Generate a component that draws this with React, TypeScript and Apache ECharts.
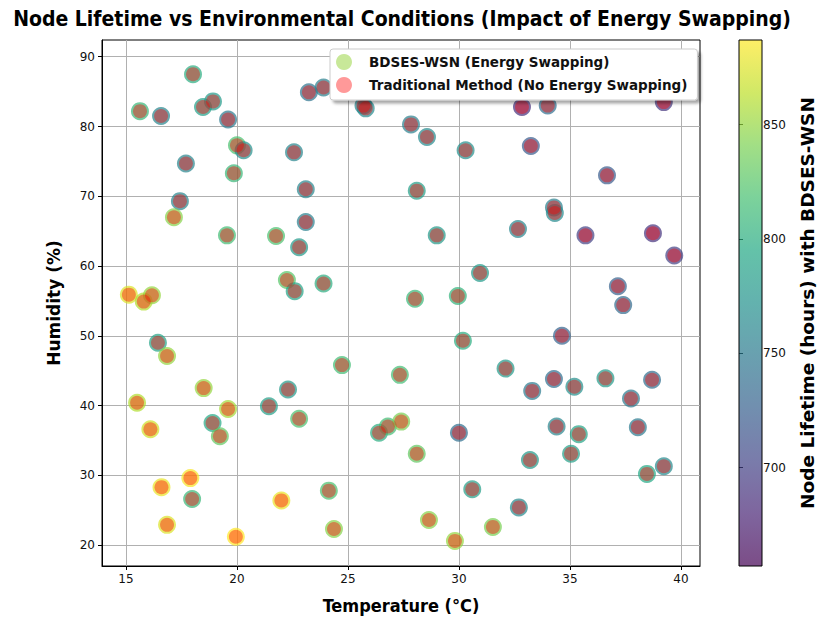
import React, { useEffect, useRef } from "react";
import * as echarts from "echarts";

// BDSES-WSN nodes: temperature (°C), humidity (%), node lifetime (hours)
const temperature = [
  18.02, 15.63, 16.58, 18.47, 18.92, 19.6, 20.0, 20.3, 22.57, 23.24, 23.9, 17.7, 19.86, 23.1, 17.43, 17.16, 23.1, 19.55, 21.76, 22.8, 22.25, 22.6, 23.9, 15.13, 15.8, 16.17,
  25.7, 25.8, 27.84, 28.56, 30.3, 32.84, 34.0, 39.23, 33.24, 36.67, 28.1, 34.28, 34.32, 29.0, 32.66, 35.7, 38.74, 39.7, 30.95, 37.16, 37.4, 28.02, 29.95,
  16.44, 16.85, 18.5, 15.5, 19.6, 18.9, 19.23, 16.1, 21.44, 22.3, 22.8, 24.73, 16.6, 17.9, 17.98, 16.85, 19.95, 22.0, 24.14, 24.37,
  34.64, 30.18, 27.34, 32.1, 33.3, 34.28, 35.2, 36.6, 37.75, 38.7, 26.4, 26.8, 27.4, 28.1, 30.0, 34.4, 35.4, 38.06, 33.2, 35.05, 38.47, 39.23, 30.6, 32.7, 28.65, 31.53, 29.82,
];
const humidity = [
  87.5, 82.2, 81.5, 82.8, 83.6, 81.0, 77.3, 76.6, 76.3, 84.9, 85.6, 74.7, 73.3, 71.0, 69.3, 67.0, 66.3, 64.4, 64.3, 62.7, 58.0, 56.4, 57.5, 55.9, 54.9, 55.8,
  83.0, 82.6, 80.3, 78.5, 76.6, 82.8, 83.0, 83.5, 77.2, 73.0, 70.8, 68.4, 67.6, 64.4, 65.3, 64.4, 64.7, 61.5, 59.0, 57.1, 54.4, 55.3, 55.7,
  49.0, 47.1, 42.5, 40.4, 39.5, 37.5, 35.6, 36.6, 39.9, 42.3, 38.1, 45.8, 28.3, 29.6, 26.6, 22.9, 21.2, 26.4, 27.8, 22.3,
  50.0, 49.3, 44.4, 45.3, 42.1, 43.8, 42.7, 43.9, 41.0, 43.7, 36.1, 37.0, 37.7, 33.1, 36.1, 37.0, 35.9, 36.9, 32.2, 33.1, 30.2, 31.3, 28.0, 25.4, 23.6, 22.6, 20.6,
];
const lifetime = [
  800, 810, 760, 785, 780, 750, 820, 770, 760, 745, 755, 760, 810, 760, 760, 845, 755, 815, 820, 780, 825, 790, 800, 875, 860, 850,
  760, 765, 755, 765, 770, 688, 740, 692, 722, 722, 785, 755, 765, 780, 760, 700, 690, 700, 780, 728, 735, 810, 805,
  790, 850, 850, 860, 855, 795, 830, 870, 785, 780, 820, 815, 880, 885, 810, 875, 887, 880, 820, 845,
  730, 800, 815, 780, 750, 740, 770, 780, 750, 740, 800, 815, 840, 830, 740, 760, 790, 750, 780, 785, 795, 765, 785, 765, 845, 840, 850,
];

const xTicks = [15, 20, 25, 30, 35, 40];
const yTicks = [20, 30, 40, 50, 60, 70, 80, 90];
const cbTicks = [700, 750, 800, 850];

const seriesNames = ["BDSES-WSN (Energy Swapping)", "Traditional Method (No Energy Swapping)"];

const LMIN = 657;
const LMAX = 887;

const viridis = [
  "#440154", "#482475", "#414487", "#355f8d", "#2a788e", "#21918c",
  "#22a884", "#44bf70", "#7ad151", "#bddf26", "#fde725",
];

export default function App() {
  const ref = useRef<HTMLDivElement>(null);
  useEffect(() => {
    if (!ref.current) return;
    const chart = echarts.init(ref.current, undefined, { renderer: "svg" });
    const bdses = temperature.map((t, i) => [t, humidity[i], lifetime[i]]);
    const trad = temperature.map((t, i) => [t, humidity[i]]);
    const font = "DejaVu Sans";
    const cond = "'DejaVu Sans Condensed', 'DejaVu Sans'";
    const gridLeft = 102, gridTop = 40, gridRight = 700, gridBottom = 566;
    const cbLeft = 739, cbWidth = 23;
    const stops = viridis.map((c, i) => ({ offset: i / (viridis.length - 1), color: c }));
    chart.setOption({
      animation: false,
      backgroundColor: "#ffffff",
      grid: [
        { left: gridLeft, top: gridTop, width: gridRight - gridLeft, height: gridBottom - gridTop, show: true, borderColor: "#000", borderWidth: 1, backgroundColor: "transparent" },
        { left: cbLeft, top: gridTop, width: cbWidth, height: gridBottom - gridTop, show: false },
      ],
      xAxis: [
        {
          type: "value", gridIndex: 0, min: 13.92, max: 40.86, splitNumber: 5,
          name: "Temperature (°C)", nameLocation: "middle", nameGap: 30,
          nameTextStyle: { fontFamily: cond, fontWeight: "bold", fontSize: 18, color: "#000" },
          axisLine: { show: true, lineStyle: { color: "#000", width: 1 } },
          axisTick: { show: true, length: 4, lineStyle: { color: "#000" }, customValues: xTicks },
          axisLabel: { fontFamily: font, fontSize: 12, color: "#111", margin: 7, customValues: xTicks,
            formatter: (v: number) => (xTicks.includes(v) ? String(v) : "") },
          splitLine: { show: true, lineStyle: { color: "#b0b0b0", width: 1 } },
        },
        { type: "value", gridIndex: 1, min: 0, max: 1, show: false },
      ],
      yAxis: [
        {
          type: "value", gridIndex: 0, min: 17, max: 92.4, splitNumber: 8,
          name: "Humidity (%)", nameLocation: "middle", nameGap: 40, nameRotate: 90,
          nameTextStyle: { fontFamily: font, fontWeight: "bold", fontSize: 17, color: "#000" },
          axisLine: { show: true, lineStyle: { color: "#000", width: 1 } },
          axisTick: { show: true, length: 4, lineStyle: { color: "#000" }, customValues: yTicks },
          axisLabel: { fontFamily: font, fontSize: 12, color: "#111", margin: 7, customValues: yTicks,
            formatter: (v: number) => (yTicks.includes(v) ? String(v) : "") },
          splitLine: { show: true, lineStyle: { color: "#b0b0b0", width: 1 } },
        },
        {
          type: "value", gridIndex: 1, min: LMIN, max: LMAX, position: "right",
          name: "Node Lifetime (hours) with BDSES-WSN", nameLocation: "middle", nameGap: 42, nameRotate: 90,
          nameTextStyle: { fontFamily: font, fontWeight: "bold", fontSize: 18.5, color: "#000" },
          axisLine: { show: false },
          axisTick: { show: true, length: 4, lineStyle: { color: "#000" }, customValues: cbTicks },
          axisLabel: { fontFamily: font, fontSize: 12, color: "#111", margin: 7, customValues: cbTicks,
            formatter: (v: number) => (cbTicks.includes(v) ? String(v) : "") },
          splitLine: { show: false },
        },
      ],
      visualMap: {
        show: false, type: "continuous", seriesIndex: 0, dimension: 2,
        min: LMIN, max: LMAX, inRange: { color: viridis },
      },
      legend: {
        left: 330, top: 49, orient: "vertical",
        padding: [5, 10, 7, 6], itemGap: 7, itemWidth: 24, itemHeight: 16,
        backgroundColor: "#fff", borderColor: "#cccccc", borderWidth: 1, borderRadius: 3,
        shadowBlur: 3, shadowColor: "rgba(0,0,0,0.35)", shadowOffsetX: 3, shadowOffsetY: 3,
        textStyle: { fontFamily: font, fontWeight: "bold", fontSize: 13.5, color: "#111", padding: [0, 0, 0, 8] },
        data: [
          { name: seriesNames[0], icon: "circle", itemStyle: { color: "rgba(150,212,60,0.75)" } },
          { name: seriesNames[1], icon: "circle", itemStyle: { color: "rgba(255,0,0,0.5)" } },
        ],
      },
      graphic: [
        {
          type: "text", x: 402, y: 19,
          style: { text: "Node Lifetime vs Environmental Conditions (Impact of Energy Swapping)", fontFamily: cond, fontWeight: "bold", fontSize: 21, fill: "#000", textAlign: "center", textVerticalAlign: "middle" },
        },
        {
          type: "rect", shape: { x: cbLeft, y: gridTop, width: cbWidth, height: gridBottom - gridTop },
          style: { fill: { type: "linear", x: 0, y: 1, x2: 0, y2: 0, colorStops: stops }, opacity: 0.7 },
          z: 1,
        },
        {
          type: "rect", shape: { x: cbLeft, y: gridTop, width: cbWidth, height: gridBottom - gridTop },
          style: { fill: "none", stroke: "#000", lineWidth: 1 },
          z: 2,
        },
      ],
      series: [
        {
          name: seriesNames[0], type: "scatter", xAxisIndex: 0, yAxisIndex: 0,
          symbol: "circle", symbolSize: 18, data: bdses,
          itemStyle: { opacity: 0.7 }, z: 2,
        },
        {
          name: seriesNames[1], type: "scatter", xAxisIndex: 0, yAxisIndex: 0,
          symbol: "circle", symbolSize: 14, data: trad,
          itemStyle: { color: "rgba(255,0,0,0.5)" }, z: 3,
        },
      ],
    });
    return () => chart.dispose();
  }, []);
  return <div ref={ref} style={{ width: 818, height: 619, position: "absolute", left: 0, top: 0 }} />;
}
